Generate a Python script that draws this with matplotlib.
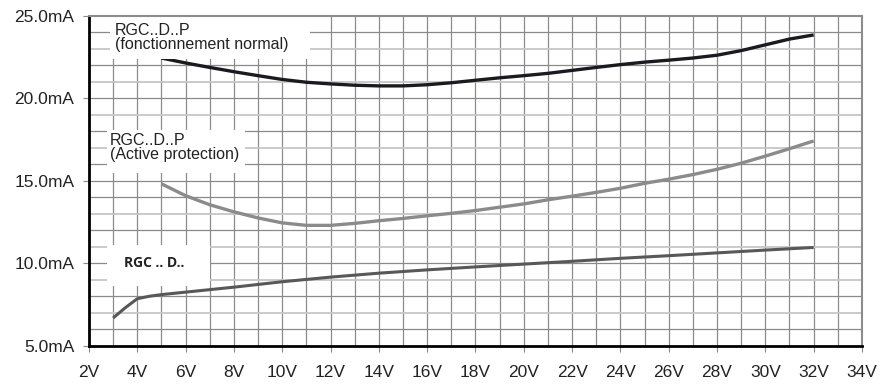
import matplotlib.pyplot as plt
from matplotlib.patches import Rectangle

# tension (V) / courant (mA)
v_normal = [5, 6, 7, 8, 9, 10, 11, 12, 13, 14, 15, 16, 17, 18, 19, 20,
            21, 22, 23, 24, 25, 26, 27, 28, 29, 30, 31, 32]
i_normal = [22.45, 22.15, 21.88, 21.62, 21.38, 21.15, 20.98, 20.88, 20.80, 20.76,
            20.76, 20.83, 20.95, 21.10, 21.25, 21.38, 21.52, 21.70, 21.88, 22.05,
            22.20, 22.32, 22.45, 22.62, 22.90, 23.25, 23.60, 23.85]

v_prot = [5, 6, 7, 8, 9, 10, 11, 12, 13, 14, 15, 16, 17, 18, 19, 20,
          21, 22, 23, 24, 25, 26, 27, 28, 29, 30, 31, 32]
i_prot = [14.82, 14.10, 13.55, 13.12, 12.75, 12.45, 12.30, 12.30, 12.42, 12.58,
          12.72, 12.88, 13.03, 13.20, 13.40, 13.60, 13.85, 14.07, 14.30, 14.55,
          14.85, 15.10, 15.38, 15.70, 16.07, 16.50, 16.95, 17.42]

v_d = [3, 3.5, 4, 4.5, 5, 6, 8, 10, 12, 14, 16, 18, 20, 22, 24, 26, 28, 30, 32]
i_d = [6.68, 7.30, 7.85, 8.00, 8.10, 8.25, 8.55, 8.88, 9.16, 9.40, 9.60, 9.78,
       9.95, 10.12, 10.30, 10.46, 10.63, 10.80, 10.96]

x_ticks = list(range(2, 35, 2))
x_labels = [f"{v}V" for v in x_ticks]
y_ticks = [5, 10, 15, 20, 25]
y_labels = [f"{v:.1f}mA" for v in y_ticks]

labels = ["RGC..D..P\n(fonctionnement normal)",
          "RGC..D..P\n(Active protection)",
          "RGC .. D.."]


def main():
    plt.rcParams['font.family'] = ['Liberation Sans', 'DejaVu Sans']
    fig = plt.figure(figsize=(8.8, 3.87), dpi=100)
    ax = fig.add_axes([0.1011, 0.1067, 0.8784, 0.852])

    ax.set_xlim(2, 34)
    ax.set_ylim(5, 25)

    # grille
    for v in range(3, 34):
        ax.axvline(v, color='#8c8c8c', lw=0.9, zorder=1)
    for m in range(6, 25):
        light = (m % 2 == 1) and (m % 5 != 0)
        ax.axhline(m, color='#c6c6c6' if light else '#8a8a8a',
                   lw=1.3 if light else 0.9, zorder=1)

    ax.plot(v_normal, i_normal, color='#1b1b1f', lw=2.4, zorder=3,
            solid_capstyle='butt')
    ax.plot(v_prot, i_prot, color='#8a8c8a', lw=2.4, zorder=3,
            solid_capstyle='butt')
    ax.plot(v_d, i_d, color='#58585a', lw=2.2, zorder=3,
            solid_capstyle='butt')

    # cadres blancs des etiquettes
    ax.add_patch(Rectangle((2.87, 22.4), 8.28, 2.6, facecolor='white',
                           edgecolor='none', zorder=4))
    ax.add_patch(Rectangle((2.74, 15.48), 5.72, 2.61, facecolor='white',
                           edgecolor='none', zorder=4))
    ax.add_patch(Rectangle((2.74, 8.6), 4.26, 2.5, facecolor='white',
                           edgecolor='none', zorder=4))

    ax.text(3.08, 24.6, labels[0], fontsize=11.5, color='#222222', va='top',
            ha='left', linespacing=0.92, zorder=5)
    ax.text(2.87, 17.9, labels[1], fontsize=11.5, color='#222222', va='top',
            ha='left', linespacing=0.92, zorder=5)
    ax.text(4.69, 10.03, labels[2], fontsize=10, fontweight='bold',
            family=['Open Sans', 'DejaVu Sans'], color='#222222',
            va='center', ha='center', zorder=5)

    ax.set_xticks(x_ticks)
    ax.set_xticklabels(x_labels)
    ax.set_yticks(y_ticks)
    ax.set_yticklabels(y_labels)
    ax.tick_params(axis='x', length=4, width=0.8, color='#888888', pad=10,
                   labelsize=12.5, labelcolor='#222222')
    ax.tick_params(axis='y', length=4.5, width=0.8, color='#888888', pad=6,
                   labelsize=12.5, labelcolor='#222222')

    ax.spines['left'].set_linewidth(2)
    ax.spines['left'].set_color('black')
    ax.spines['bottom'].set_linewidth(2)
    ax.spines['bottom'].set_color('black')
    ax.spines['top'].set_linewidth(1.5)
    ax.spines['top'].set_color('#8c8c8c')
    ax.spines['right'].set_linewidth(1.5)
    ax.spines['right'].set_color('#8c8c8c')
    for s in ax.spines.values():
        s.set_zorder(6)

    fig.savefig('out.png', dpi=100)


if __name__ == "__main__":
    main()
